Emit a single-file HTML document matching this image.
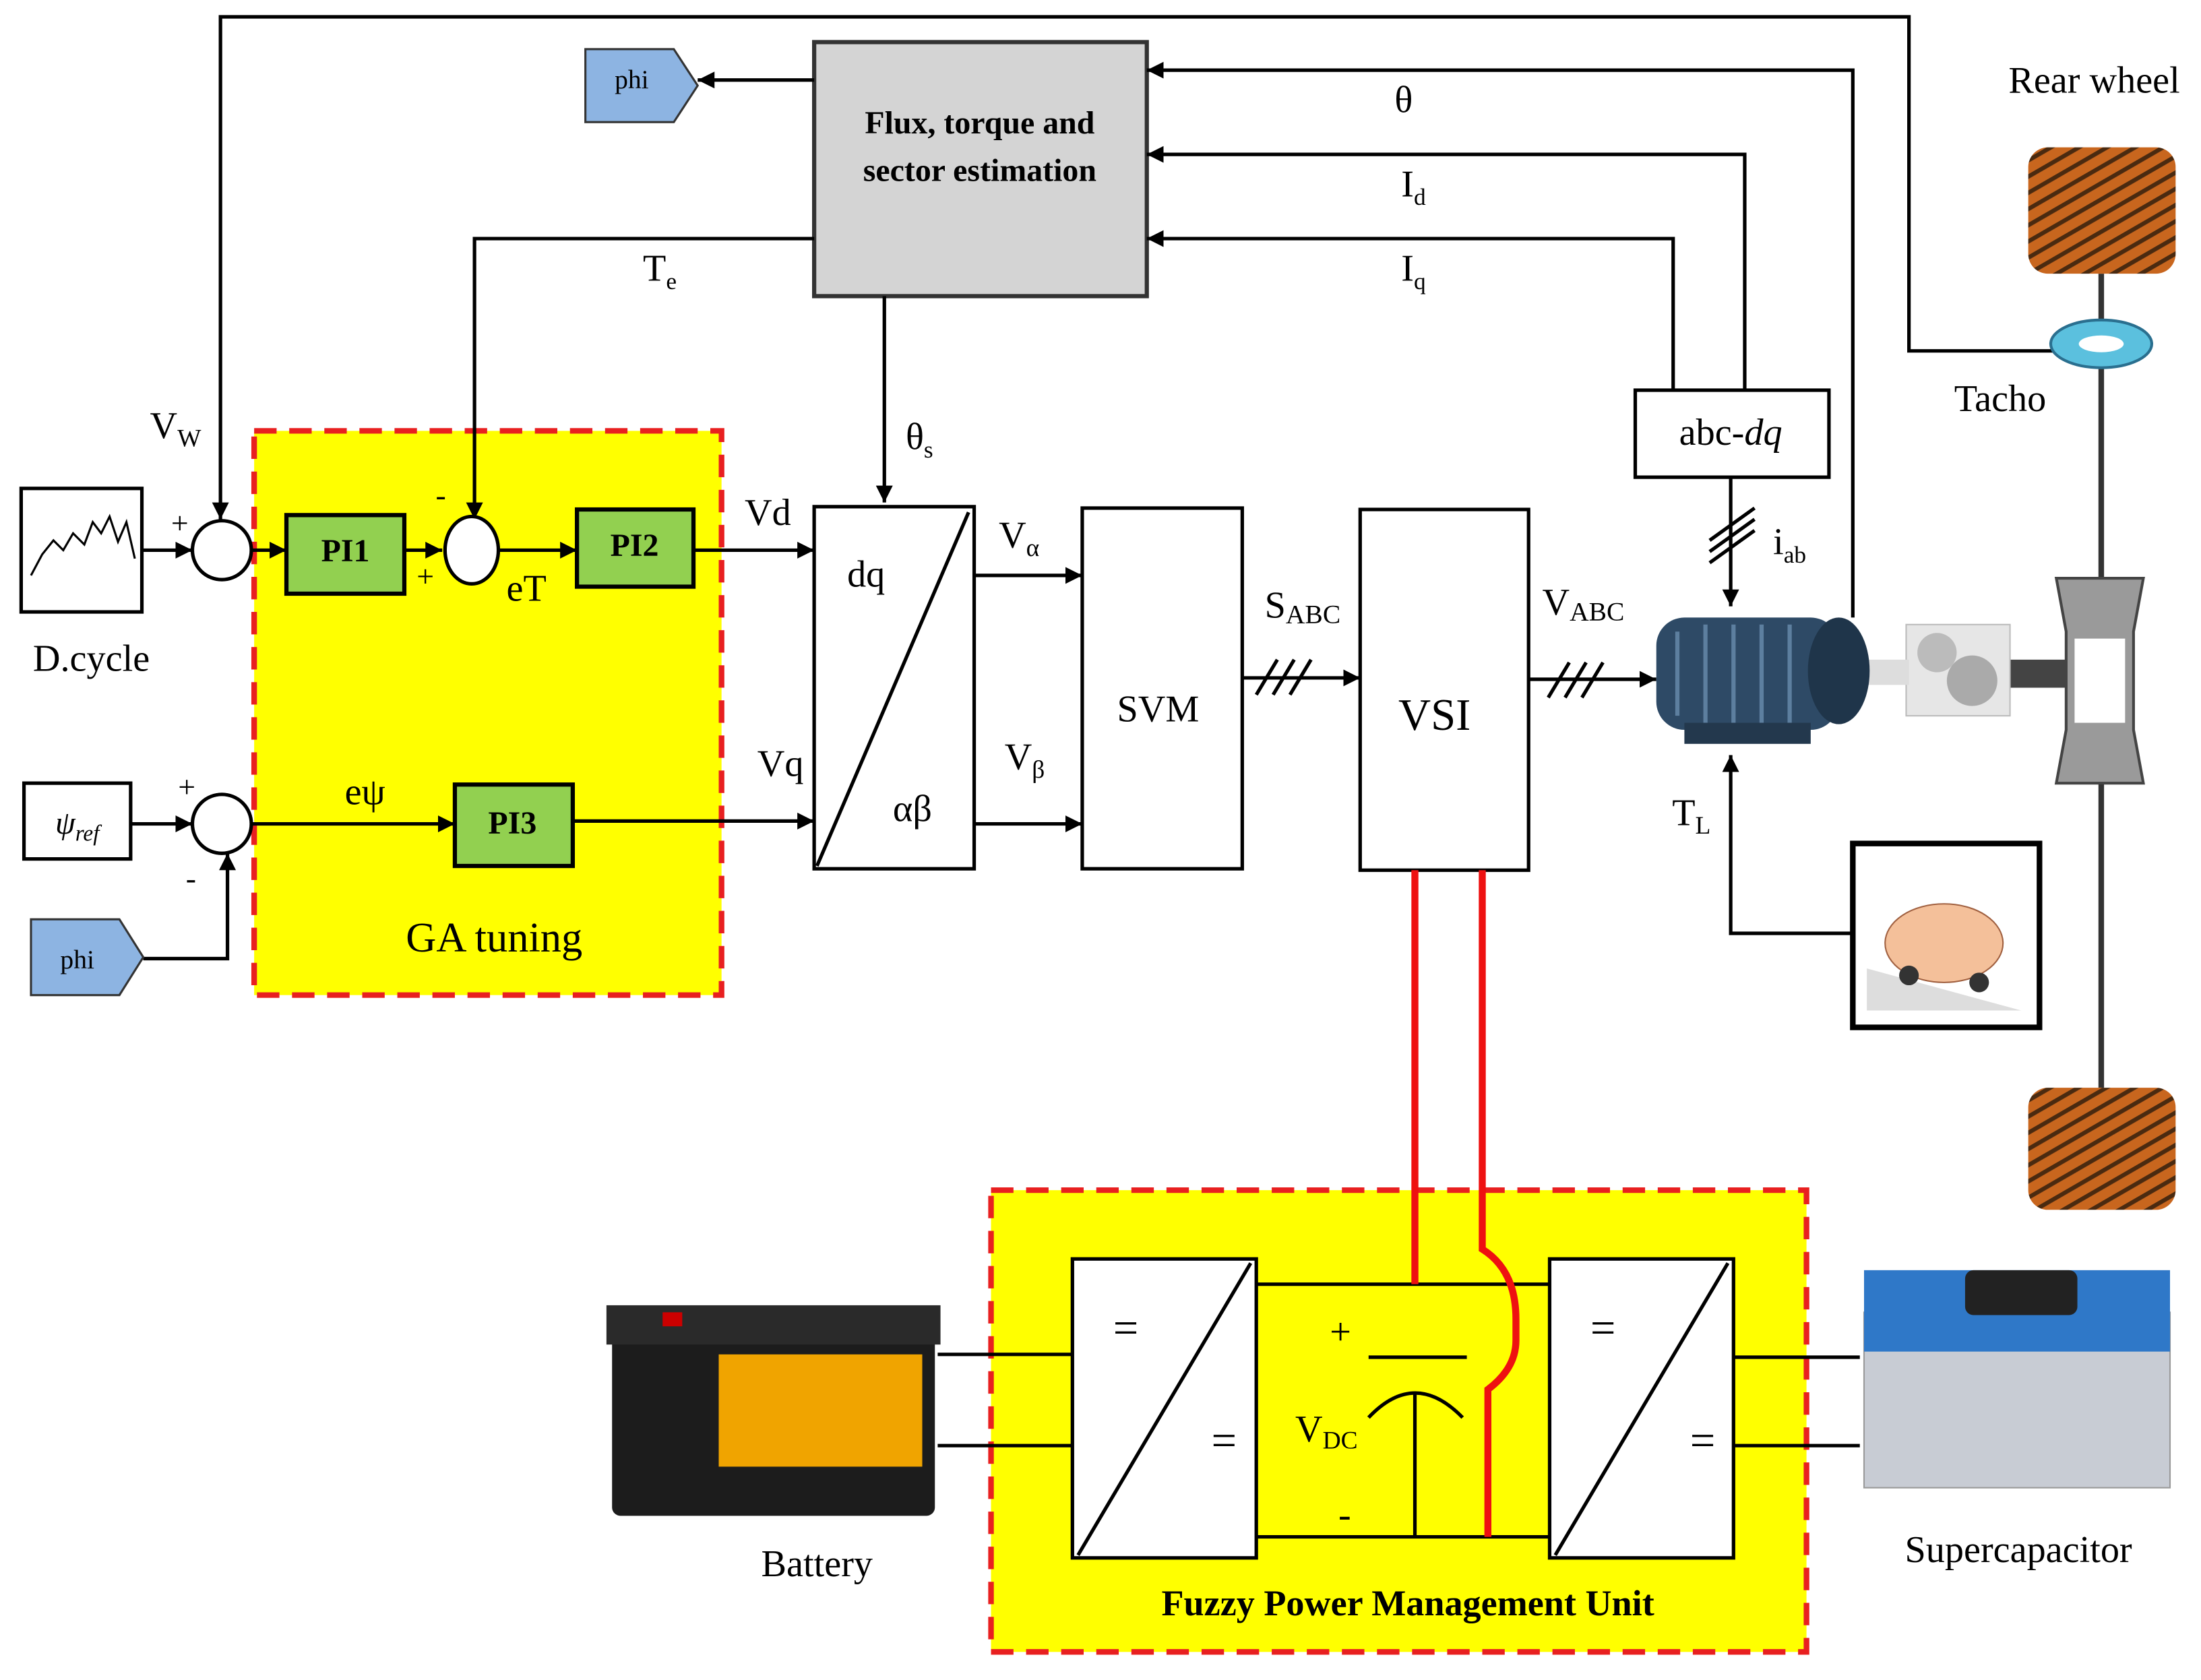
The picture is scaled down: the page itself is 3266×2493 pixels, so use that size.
<!DOCTYPE html>
<html><head><meta charset="utf-8"><style>
html,body{margin:0;padding:0;background:#fff;}
svg{display:block;}
text{font-family:"Liberation Serif",serif;fill:#000;}
</style></head><body>
<svg width="3266" height="2493" viewBox="0 0 1568 1197" xmlns="http://www.w3.org/2000/svg">
<defs>
<marker id="a" viewBox="0 0 10 10" refX="10" refY="5" markerWidth="7" markerHeight="7" orient="auto-start-reverse" markerUnits="userSpaceOnUse"><path d="M0,0L10,5L0,10z" fill="#000"/></marker>
<marker id="b" viewBox="0 0 10 10" refX="10" refY="5" markerWidth="12" markerHeight="12" orient="auto" markerUnits="userSpaceOnUse"><path d="M0,0L10,5L0,10z" fill="#000"/></marker>
<pattern id="h" width="10" height="10" patternUnits="userSpaceOnUse" patternTransform="rotate(60)"><rect width="10" height="10" fill="#c8661e"/><rect width="3" height="10" fill="#4a2a10"/></pattern>
</defs>
<g stroke="#000" stroke-width="2.5" fill="none">
<!-- yellow boxes -->
<rect x="181" y="307" width="333" height="402" fill="#ffff00" stroke="#e82020" stroke-width="4" stroke-dasharray="16,9"/>
<rect x="706" y="848" width="581" height="329" fill="#ffff00" stroke="#e82020" stroke-width="4" stroke-dasharray="16,9"/>
<!-- top feedback -->
<polyline points="1465,250 1360,250 1360,12 157,12 157,370" marker-end="url(#b)"/>
<rect x="580" y="30" width="237" height="181" fill="#d4d4d4" stroke="#333" stroke-width="3"/>
<line x1="580" y1="57" x2="497" y2="57" marker-end="url(#b)"/>
<polyline points="1320,440 1320,50 817,50" marker-end="url(#b)"/>
<polyline points="1243,278 1243,110 817,110" marker-end="url(#b)"/>
<polyline points="1192,278 1192,170 817,170" marker-end="url(#b)"/>
<polyline points="580,170 338,170 338,370" marker-end="url(#b)"/>
<line x1="630" y1="211" x2="630" y2="358" marker-end="url(#b)"/>
<rect x="1165" y="278" width="138" height="62" fill="#fff"/>
<line x1="1233" y1="340" x2="1233" y2="432" marker-end="url(#b)"/>
<line x1="1218" y1="385" x2="1250" y2="362"/><line x1="1218" y1="393" x2="1250" y2="370"/><line x1="1218" y1="401" x2="1250" y2="378"/>
<!-- D cycle -->
<rect x="15" y="348" width="86" height="88" fill="#fff"/>
<polyline points="22,410 30,395 38,385 45,392 52,380 60,388 66,372 72,380 78,368 84,386 90,372 96,398" stroke-width="1.5"/>
<line x1="101" y1="392" x2="137" y2="392" marker-end="url(#b)"/>
<circle cx="158" cy="392" r="21" fill="#fff"/>
<line x1="179" y1="392" x2="204" y2="392" marker-end="url(#b)"/>
<rect x="204" y="367" width="84" height="56" fill="#92d050" stroke-width="3"/>
<line x1="288" y1="392" x2="315" y2="392" marker-end="url(#b)"/>
<ellipse cx="336" cy="392" rx="19" ry="24" fill="#fff"/>
<line x1="355" y1="392" x2="411" y2="392" marker-end="url(#b)"/>
<rect x="411" y="363" width="83" height="55" fill="#92d050" stroke-width="3"/>
<line x1="494" y1="392" x2="580" y2="392" marker-end="url(#b)"/>
<!-- psi -->
<rect x="17" y="558" width="76" height="54" fill="#fff"/>
<line x1="93" y1="587" x2="137" y2="587" marker-end="url(#b)"/>
<circle cx="158" cy="587" r="21" fill="#fff"/>
<polyline points="102,683 162,683 162,608" marker-end="url(#b)"/>
<line x1="179" y1="587" x2="324" y2="587" marker-end="url(#b)"/>
<rect x="324" y="559" width="84" height="58" fill="#92d050" stroke-width="3"/>
<line x1="408" y1="585" x2="580" y2="585" marker-end="url(#b)"/>
<!-- dq -->
<rect x="580" y="361" width="114" height="258" fill="#fff"/>
<line x1="582" y1="617" x2="690" y2="365"/>
<line x1="694" y1="410" x2="771" y2="410" marker-end="url(#b)"/>
<line x1="694" y1="587" x2="771" y2="587" marker-end="url(#b)"/>
<rect x="771" y="362" width="114" height="257" fill="#fff"/>
<line x1="885" y1="483" x2="969" y2="483" marker-end="url(#b)"/>
<line x1="895" y1="495" x2="910" y2="470"/><line x1="907" y1="495" x2="922" y2="470"/><line x1="919" y1="495" x2="934" y2="470"/>
<rect x="969" y="363" width="120" height="257" fill="#fff"/>
<line x1="1089" y1="484" x2="1180" y2="484" marker-end="url(#b)"/>
<line x1="1103" y1="497" x2="1118" y2="472"/><line x1="1115" y1="497" x2="1130" y2="472"/><line x1="1127" y1="497" x2="1142" y2="472"/>
<!-- TL -->
<polyline points="1320,665 1233,665 1233,538" marker-end="url(#b)"/>
<rect x="1320" y="601" width="133" height="131" fill="#fff" stroke-width="4"/>
<!-- axle -->
<line x1="1497" y1="195" x2="1497" y2="775" stroke-width="4" stroke="#333"/>
</g>
<!-- wheels -->
<rect x="1445" y="105" width="105" height="90" rx="14" fill="url(#h)"/>
<rect x="1445" y="775" width="105" height="87" rx="14" fill="url(#h)"/>
<ellipse cx="1497" cy="245" rx="36" ry="17" fill="#5bc0de" stroke="#2a6f8f" stroke-width="2"/>
<ellipse cx="1497" cy="245" rx="16" ry="6" fill="#fff"/>
<!-- differential -->
<polygon points="1465,412 1527,412 1520,450 1520,520 1527,558 1465,558 1472,520 1472,450" fill="#9a9a9a" stroke="#444" stroke-width="2"/>
<rect x="1478" y="455" width="36" height="60" fill="#fff"/>
<rect x="1432" y="470" width="40" height="20" fill="#444"/>
<rect x="1358" y="445" width="74" height="65" fill="#e6e6e6" stroke="#bbb"/>
<circle cx="1380" cy="465" r="14" fill="#bbb"/><circle cx="1405" cy="485" r="18" fill="#aaa"/>
<rect x="1330" y="470" width="30" height="18" fill="#ddd"/>
<!-- motor -->
<rect x="1180" y="440" width="130" height="80" rx="20" fill="#2e4a66"/>
<g stroke="#5d7f9f" stroke-width="3"><line x1="1195" y1="450" x2="1195" y2="510"/><line x1="1215" y1="445" x2="1215" y2="515"/><line x1="1235" y1="445" x2="1235" y2="515"/><line x1="1255" y1="445" x2="1255" y2="515"/><line x1="1275" y1="445" x2="1275" y2="515"/></g>
<ellipse cx="1310" cy="478" rx="22" ry="38" fill="#1f354a"/>
<rect x="1200" y="515" width="90" height="15" fill="#23384d"/>
<!-- car -->
<polygon points="1330,690 1440,720 1330,720" fill="#ddd"/>
<ellipse cx="1385" cy="672" rx="42" ry="28" fill="#f4c09a" stroke="#a06040"/>
<circle cx="1360" cy="695" r="7" fill="#333"/><circle cx="1410" cy="700" r="7" fill="#333"/>
<!-- tags -->
<polygon points="417,35 480,35 497,61 480,87 417,87" fill="#8db4e2" stroke="#333" stroke-width="1.5"/>
<polygon points="22,655 85,655 102,682 85,709 22,709" fill="#8db4e2" stroke="#333" stroke-width="1.5"/>
<!-- lower section -->
<g stroke="#000" stroke-width="2.5" fill="none">
<rect x="764" y="897" width="131" height="213" fill="#fff"/>
<line x1="768" y1="1108" x2="891" y2="900"/>
<rect x="1104" y="897" width="131" height="213" fill="#fff"/>
<line x1="1108" y1="1108" x2="1231" y2="900"/>
<line x1="895" y1="915" x2="1104" y2="915"/>
<line x1="895" y1="1095" x2="1104" y2="1095"/>
<line x1="975" y1="967" x2="1045" y2="967"/>
<path d="M975,1010 Q1008,975 1042,1010"/>
<line x1="1008" y1="993" x2="1008" y2="1095"/>
<line x1="668" y1="965" x2="764" y2="965"/><line x1="668" y1="1030" x2="764" y2="1030"/>
<line x1="1235" y1="967" x2="1325" y2="967"/><line x1="1235" y1="1030" x2="1325" y2="1030"/>
</g>
<g stroke="#ee1111" stroke-width="5" fill="none">
<line x1="1008" y1="620" x2="1008" y2="915"/>
<path d="M1056,620 L1056,890 Q1080,905 1080,940 L1080,955 Q1080,975 1060,990 L1060,1095"/>
</g>
<!-- battery -->
<rect x="436" y="945" width="230" height="135" rx="6" fill="#1c1c1c"/>
<rect x="432" y="930" width="238" height="28" fill="#2a2a2a"/>
<rect x="512" y="965" width="145" height="80" fill="#f0a400"/>
<rect x="472" y="935" width="14" height="10" fill="#c00"/>
<!-- supercap -->
<rect x="1328" y="935" width="218" height="125" fill="#c8ccd4" stroke="#999"/>
<rect x="1328" y="905" width="218" height="58" fill="#2f78c8"/>
<rect x="1400" y="905" width="80" height="32" rx="6" fill="#222"/>
<!-- text -->
<g font-size="23" font-weight="bold" text-anchor="middle">
<text x="698" y="95">Flux, torque and</text>
<text x="698" y="129">sector estimation</text>
<text x="246" y="400">PI1</text><text x="452" y="396">PI2</text><text x="365" y="594">PI3</text>
<text x="1003" y="1151" font-size="26">Fuzzy Power Management Unit</text>
</g>
<g font-size="19" text-anchor="middle">
<text x="450" y="63">phi</text><text x="55" y="690">phi</text>
</g>
<g font-size="27" text-anchor="middle">
<text x="1000" y="80">θ</text>
<text x="1007" y="140">I<tspan font-size="17" dy="6">d</tspan></text>
<text x="1007" y="200">I<tspan font-size="17" dy="6">q</tspan></text>
<text x="470" y="200">T<tspan font-size="17" dy="6">e</tspan></text>
<text x="655" y="320">θ<tspan font-size="17" dy="6">s</tspan></text>
<text x="1233" y="317">abc-<tspan font-style="italic">dq</tspan></text>
<text x="1275" y="395">i<tspan font-size="17" dy="6">ab</tspan></text>
<text x="125" y="312">V<tspan font-size="18" dy="6">W</tspan></text>
<text x="65" y="478">D.cycle</text>
<text x="128" y="380" font-size="22">+</text>
<text x="314" y="360" font-size="22">-</text>
<text x="303" y="418" font-size="22">+</text>
<text x="375" y="428">eT</text>
<text x="547" y="374">Vd</text>
<text x="55" y="594" font-style="italic" font-size="23">ψ<tspan font-size="16" dy="5">ref</tspan></text>
<text x="133" y="568" font-size="22">+</text>
<text x="136" y="633" font-size="22">-</text>
<text x="260" y="573">eψ</text>
<text x="556" y="553">Vq</text>
<text x="352" y="678" font-size="30">GA tuning</text>
<text x="617" y="418">dq</text>
<text x="650" y="585">αβ</text>
<text x="726" y="390">V<tspan font-size="18" dy="6">α</tspan></text>
<text x="730" y="548">V<tspan font-size="18" dy="6">β</tspan></text>
<text x="825" y="514">SVM</text>
<text x="928" y="440">S<tspan font-size="19" dy="4">ABC</tspan></text>
<text x="1022" y="520" font-size="32">VSI</text>
<text x="1128" y="438">V<tspan font-size="19" dy="4">ABC</tspan></text>
<text x="1205" y="588">T<tspan font-size="18" dy="6">L</tspan></text>
<text x="1492" y="66">Rear wheel</text>
<text x="1425" y="293">Tacho</text>
<text x="802" y="957" font-size="32">=</text><text x="872" y="1037" font-size="32">=</text>
<text x="1142" y="957" font-size="32">=</text><text x="1213" y="1037" font-size="32">=</text>
<text x="955" y="958">+</text>
<text x="945" y="1027">V<tspan font-size="18" dy="5">DC</tspan></text>
<text x="958" y="1088">-</text>
<text x="582" y="1123">Battery</text>
<text x="1438" y="1113">Supercapacitor</text>
</g>
</svg>
</body></html>
